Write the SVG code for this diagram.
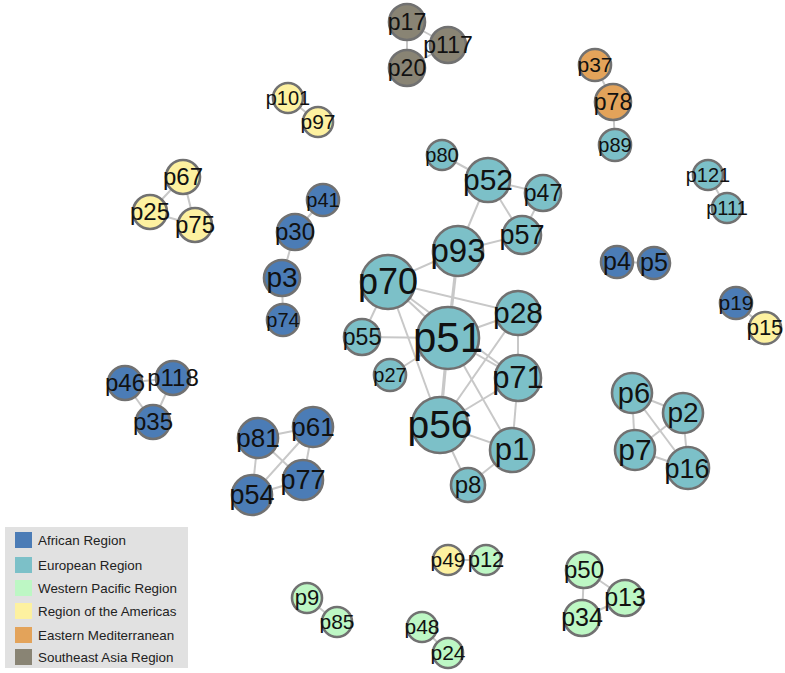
<svg xmlns="http://www.w3.org/2000/svg" width="785" height="673" viewBox="0 0 785 673">
<style>
.n{stroke:#717171;stroke-width:2.6}
.af{fill:#4b7cb6}.eu{fill:#7cc0c8}.wp{fill:#bdf7c4}.am{fill:#fdf1a0}.em{fill:#e3a35a}.sa{fill:#898474}
text{font-family:"Liberation Sans",Arial,Helvetica,sans-serif;fill:#111}
.l{text-anchor:middle}
#edges line{stroke:#c8c8c8;stroke-width:2}
#edges line.t{stroke-width:3.2}
.lg{font-size:13.4px;fill:#222}
</style>
<rect width="785" height="673" fill="#fff"/>
<g id="edges">
<line x1="407" y1="22" x2="448" y2="45"/><line x1="407" y1="22" x2="407" y2="68"/><line x1="407" y1="68" x2="448" y2="45"/>
<line x1="595" y1="65" x2="613" y2="102"/><line x1="613" y1="102" x2="615" y2="145"/>
<line x1="288" y1="98" x2="318" y2="122"/>
<line x1="183" y1="177" x2="150" y2="212"/><line x1="183" y1="177" x2="195" y2="225"/><line x1="150" y1="212" x2="195" y2="225"/>
<line x1="323" y1="200" x2="295" y2="232"/><line x1="295" y1="232" x2="282" y2="278"/><line x1="282" y1="278" x2="283" y2="320"/>
<line x1="442" y1="155" x2="488" y2="180"/><line x1="488" y1="180" x2="543" y2="193"/><line x1="488" y1="180" x2="522" y2="235"/><line x1="488" y1="180" x2="458" y2="251"/>
<line x1="543" y1="193" x2="522" y2="235"/><line x1="522" y1="235" x2="458" y2="251"/>
<line x1="458" y1="251" x2="388" y2="282"/><line class="t" x1="458" y1="251" x2="448" y2="338"/>
<line x1="388" y1="282" x2="518" y2="313"/><line x1="388" y1="282" x2="448" y2="338"/><line x1="388" y1="282" x2="518" y2="378"/><line x1="388" y1="282" x2="362" y2="337"/><line x1="388" y1="282" x2="440" y2="425"/>
<line x1="448" y1="338" x2="362" y2="337"/><line x1="448" y1="338" x2="390" y2="375"/><line x1="448" y1="338" x2="518" y2="313"/><line class="t" x1="448" y1="338" x2="440" y2="425"/><line x1="448" y1="338" x2="512" y2="450"/><line x1="448" y1="338" x2="518" y2="378"/>
<line x1="518" y1="313" x2="518" y2="378"/><line x1="518" y1="313" x2="440" y2="425"/>
<line x1="518" y1="378" x2="440" y2="425"/><line x1="518" y1="378" x2="512" y2="450"/>
<line x1="440" y1="425" x2="512" y2="450"/><line x1="440" y1="425" x2="468" y2="485"/><line x1="468" y1="485" x2="512" y2="450"/>
<line x1="708" y1="175" x2="727" y2="208"/>
<line x1="617" y1="262" x2="654" y2="263"/>
<line x1="736" y1="303" x2="765" y2="328"/>
<line x1="632" y1="393" x2="683" y2="413"/><line x1="632" y1="393" x2="635" y2="450"/><line x1="632" y1="393" x2="688" y2="468"/><line x1="683" y1="413" x2="635" y2="450"/><line x1="683" y1="413" x2="688" y2="468"/><line x1="635" y1="450" x2="688" y2="468"/>
<line x1="125" y1="383" x2="173" y2="378"/><line x1="125" y1="383" x2="153" y2="422"/><line x1="173" y1="378" x2="153" y2="422"/>
<line x1="258" y1="438" x2="313" y2="427"/><line x1="258" y1="438" x2="252" y2="495"/><line x1="258" y1="438" x2="303" y2="480"/><line x1="313" y1="427" x2="252" y2="495"/><line x1="313" y1="427" x2="303" y2="480"/><line x1="252" y1="495" x2="303" y2="480"/>
<line x1="307" y1="598" x2="337" y2="622"/>
<line x1="448" y1="560" x2="486" y2="560"/>
<line x1="422" y1="627" x2="448" y2="653"/>
<line x1="584" y1="570" x2="625" y2="598"/><line x1="584" y1="570" x2="582" y2="618"/><line x1="582" y1="618" x2="625" y2="598"/>
</g>
<g id="p17"><circle class="n sa" cx="407" cy="22" r="18"/><text class="l" x="407" y="30" font-size="23">p17</text></g>
<g id="p117"><circle class="n sa" cx="448" cy="45" r="18"/><text class="l" x="448" y="53" font-size="23">p117</text></g>
<g id="p20"><circle class="n sa" cx="407" cy="68" r="18"/><text class="l" x="407" y="76" font-size="23">p20</text></g>
<g id="p37"><circle class="n em" cx="595" cy="65" r="16"/><text class="l" x="595" y="72" font-size="21">p37</text></g>
<g id="p78"><circle class="n em" cx="613" cy="102" r="18"/><text class="l" x="613" y="110" font-size="23">p78</text></g>
<g id="p89"><circle class="n eu" cx="615" cy="145" r="16"/><text class="l" x="615" y="152" font-size="20">p89</text></g>
<g id="p101"><circle class="n am" cx="288" cy="98" r="15"/><text class="l" x="288" y="105" font-size="20">p101</text></g>
<g id="p97"><circle class="n am" cx="318" cy="122" r="15"/><text class="l" x="318" y="129" font-size="21">p97</text></g>
<g id="p67"><circle class="n am" cx="183" cy="177" r="17"/><text class="l" x="183" y="185" font-size="24">p67</text></g>
<g id="p25"><circle class="n am" cx="150" cy="212" r="17"/><text class="l" x="150" y="220" font-size="24">p25</text></g>
<g id="p75"><circle class="n am" cx="195" cy="225" r="17"/><text class="l" x="195" y="233" font-size="24">p75</text></g>
<g id="p41"><circle class="n af" cx="323" cy="200" r="16"/><text class="l" x="323" y="207" font-size="20">p41</text></g>
<g id="p30"><circle class="n af" cx="295" cy="232" r="18"/><text class="l" x="295" y="240" font-size="24">p30</text></g>
<g id="p3"><circle class="n af" cx="282" cy="278" r="18"/><text class="l" x="282" y="287" font-size="28">p3</text></g>
<g id="p74"><circle class="n af" cx="283" cy="320" r="16"/><text class="l" x="283" y="327" font-size="20">p74</text></g>
<g id="p80"><circle class="n eu" cx="442" cy="155" r="15"/><text class="l" x="442" y="162" font-size="20">p80</text></g>
<g id="p52"><circle class="n eu" cx="488" cy="180" r="22"/><text class="l" x="488" y="190" font-size="30">p52</text></g>
<g id="p47"><circle class="n eu" cx="543" cy="193" r="18"/><text class="l" x="543" y="201" font-size="23">p47</text></g>
<g id="p57"><circle class="n eu" cx="522" cy="235" r="19"/><text class="l" x="522" y="244" font-size="27">p57</text></g>
<g id="p93"><circle class="n eu" cx="458" cy="251" r="25"/><text class="l" x="458" y="262" font-size="33">p93</text></g>
<g id="p70"><circle class="n eu" cx="388" cy="282" r="27"/><text class="l" x="388" y="294" font-size="36">p70</text></g>
<g id="p28"><circle class="n eu" cx="518" cy="313" r="22"/><text class="l" x="518" y="323" font-size="30">p28</text></g>
<g id="p55"><circle class="n eu" cx="362" cy="337" r="18"/><text class="l" x="362" y="345" font-size="23">p55</text></g>
<g id="p51"><circle class="n eu" cx="448" cy="338" r="31"/><text class="l" x="448" y="352" font-size="42">p51</text></g>
<g id="p27"><circle class="n eu" cx="390" cy="375" r="16"/><text class="l" x="390" y="382" font-size="20">p27</text></g>
<g id="p71"><circle class="n eu" cx="518" cy="378" r="23"/><text class="l" x="518" y="388" font-size="31">p71</text></g>
<g id="p56"><circle class="n eu" cx="440" cy="425" r="28"/><text class="l" x="440" y="438" font-size="39">p56</text></g>
<g id="p1"><circle class="n eu" cx="512" cy="450" r="22"/><text class="l" x="512" y="460" font-size="31">p1</text></g>
<g id="p8"><circle class="n eu" cx="468" cy="485" r="17"/><text class="l" x="468" y="493" font-size="24">p8</text></g>
<g id="p121"><circle class="n eu" cx="708" cy="175" r="15"/><text class="l" x="708" y="182" font-size="20">p121</text></g>
<g id="p111"><circle class="n eu" cx="727" cy="208" r="15"/><text class="l" x="727" y="215" font-size="20">p111</text></g>
<g id="p4"><circle class="n af" cx="617" cy="262" r="16"/><text class="l" x="617" y="270" font-size="25">p4</text></g>
<g id="p5"><circle class="n af" cx="654" cy="263" r="16"/><text class="l" x="654" y="271" font-size="25">p5</text></g>
<g id="p19"><circle class="n af" cx="736" cy="303" r="16"/><text class="l" x="736" y="310" font-size="21">p19</text></g>
<g id="p15"><circle class="n am" cx="765" cy="328" r="16"/><text class="l" x="765" y="335" font-size="22">p15</text></g>
<g id="p6"><circle class="n eu" cx="632" cy="393" r="20"/><text class="l" x="634" y="403" font-size="29">p6</text></g>
<g id="p2"><circle class="n eu" cx="683" cy="413" r="20"/><text class="l" x="683" y="422" font-size="28">p2</text></g>
<g id="p7"><circle class="n eu" cx="635" cy="450" r="20"/><text class="l" x="635" y="460" font-size="30">p7</text></g>
<g id="p16"><circle class="n eu" cx="688" cy="468" r="21"/><text class="l" x="687" y="478" font-size="27">p16</text></g>
<g id="p46"><circle class="n af" cx="125" cy="383" r="17"/><text class="l" x="125" y="391" font-size="24">p46</text></g>
<g id="p118"><circle class="n af" cx="173" cy="378" r="17"/><text class="l" x="173" y="386" font-size="24">p118</text></g>
<g id="p35"><circle class="n af" cx="153" cy="422" r="17"/><text class="l" x="153" y="430" font-size="24">p35</text></g>
<g id="p81"><circle class="n af" cx="258" cy="438" r="20"/><text class="l" x="258" y="447" font-size="26">p81</text></g>
<g id="p61"><circle class="n af" cx="313" cy="427" r="20"/><text class="l" x="313" y="436" font-size="26">p61</text></g>
<g id="p54"><circle class="n af" cx="252" cy="495" r="20"/><text class="l" x="252" y="504" font-size="27">p54</text></g>
<g id="p77"><circle class="n af" cx="303" cy="480" r="20"/><text class="l" x="303" y="489" font-size="27">p77</text></g>
<g id="p9"><circle class="n wp" cx="307" cy="598" r="15"/><text class="l" x="307" y="605" font-size="22">p9</text></g>
<g id="p85"><circle class="n wp" cx="337" cy="622" r="15"/><text class="l" x="337" y="629" font-size="21">p85</text></g>
<g id="p49"><circle class="n am" cx="448" cy="560" r="15"/><text class="l" x="448" y="567" font-size="21">p49</text></g>
<g id="p12"><circle class="n wp" cx="486" cy="560" r="15"/><text class="l" x="486" y="567" font-size="22">p12</text></g>
<g id="p48"><circle class="n wp" cx="422" cy="627" r="15"/><text class="l" x="422" y="634" font-size="21">p48</text></g>
<g id="p24"><circle class="n wp" cx="448" cy="653" r="15"/><text class="l" x="448" y="660" font-size="21">p24</text></g>
<g id="p50"><circle class="n wp" cx="584" cy="570" r="18"/><text class="l" x="584" y="578" font-size="24">p50</text></g>
<g id="p13"><circle class="n wp" cx="625" cy="598" r="18"/><text class="l" x="625" y="606" font-size="25">p13</text></g>
<g id="p34"><circle class="n wp" cx="582" cy="618" r="18"/><text class="l" x="582" y="626" font-size="25">p34</text></g>
<g id="legend">
<rect x="5" y="527" width="183" height="141" fill="#e1e1e1"/>
<rect class="af" x="15" y="532" width="17" height="16"/><text class="lg" x="38" y="545">African Region</text>
<rect class="eu" x="15" y="557" width="17" height="16"/><text class="lg" x="38" y="570">European Region</text>
<rect class="wp" x="15" y="580" width="17" height="16"/><text class="lg" x="38" y="593">Western Pacific Region</text>
<rect class="am" x="15" y="603" width="17" height="16"/><text class="lg" x="38" y="616">Region of the Americas</text>
<rect class="em" x="15" y="627" width="17" height="16"/><text class="lg" x="38" y="640">Eastern Mediterranean</text>
<rect class="sa" x="15" y="649" width="17" height="16"/><text class="lg" x="38" y="662">Southeast Asia Region</text>
</g>
</svg>
